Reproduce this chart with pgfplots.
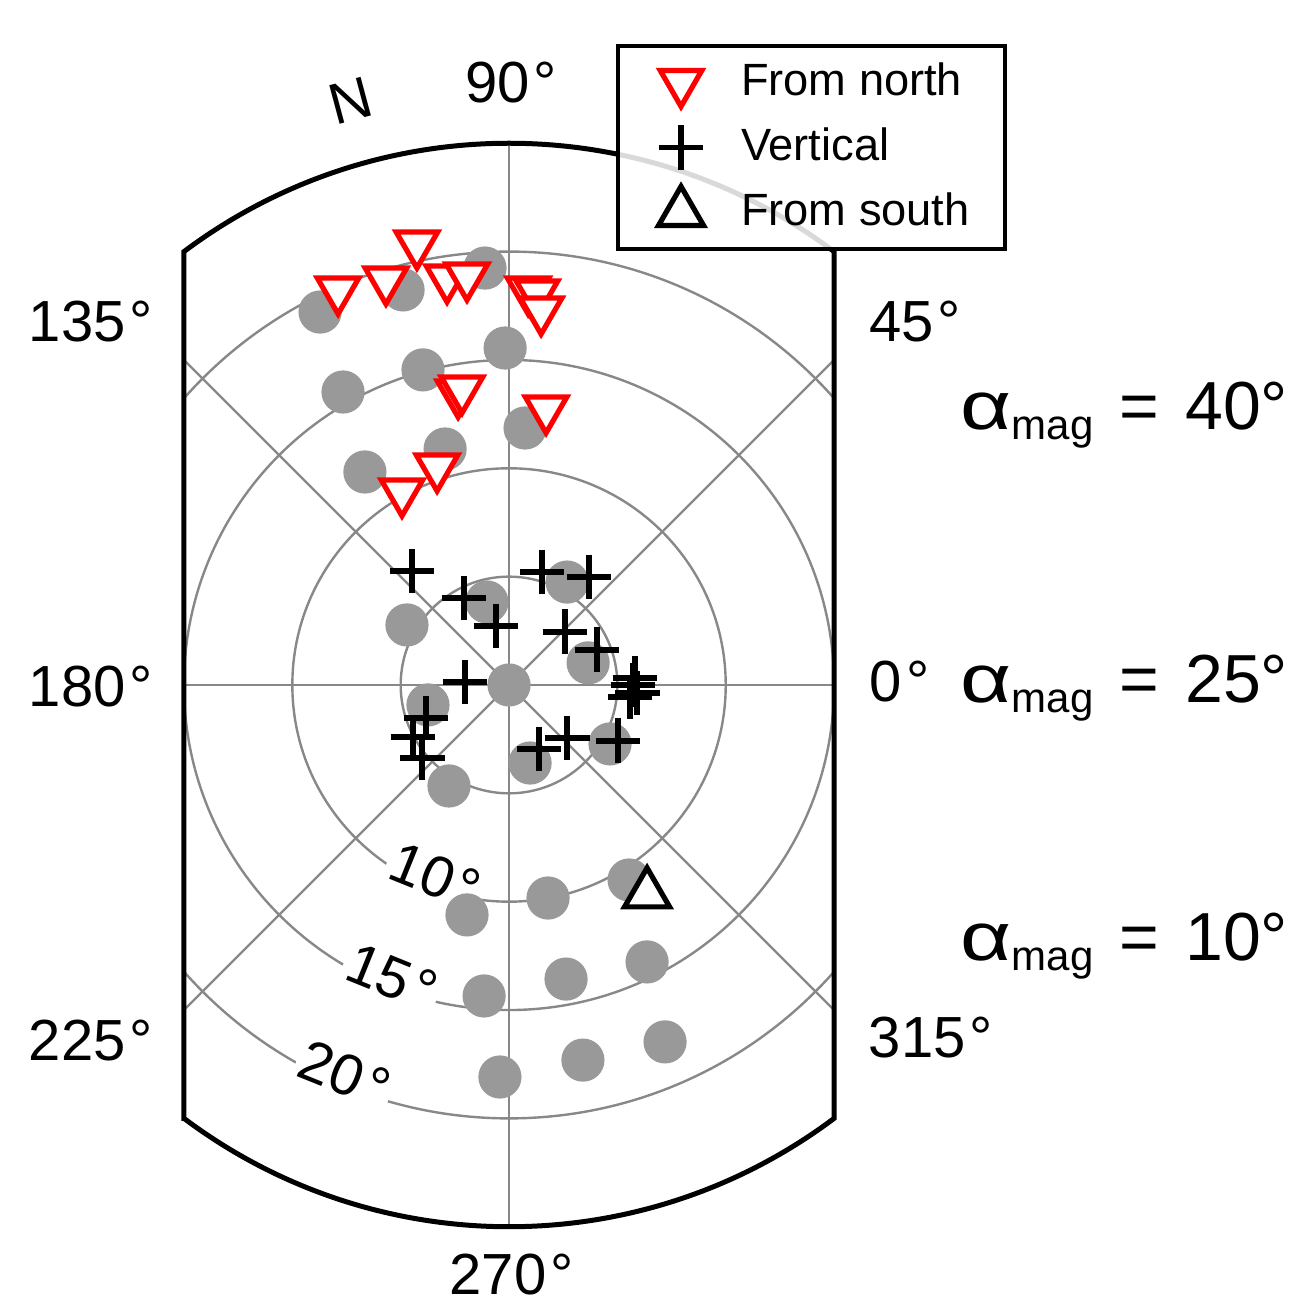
\documentclass[border=0pt]{standalone}
\usepackage{fontspec}
\setmainfont{Liberation Sans}
\usepackage{graphicx}
\usepackage{pgfplots}
\pgfplotsset{compat=1.18}
\definecolor{dotgray}{RGB}{153,153,153}
\definecolor{gridgray}{RGB}{136,136,136}
\newcommand{\lab}{\fontsize{14.5}{16}\selectfont}
\newcommand{\alab}{\fontsize{17}{19}\selectfont}
\newcommand{\amag}[1]{\scalebox{1.3}[1]{α}\raisebox{-2.5pt}{\fontsize{10.5}{12}\selectfont mag}\hspace{6.5pt}=\hspace{6.5pt}#1°}
\begin{document}
\begin{tikzpicture}
\begin{axis}[
  x=5.4175pt, y=5.4175pt,
  xmin=-15, xmax=15, ymin=-25, ymax=25,
  hide axis, clip=false,
  legend style={at={(0.6646,1.0916)}, anchor=north west, draw=black, line width=1pt,
    fill=white, fill opacity=0.85, text opacity=1, draw opacity=1,
    font=\fontsize{11.3}{13}\selectfont, cells={anchor=west},
    inner xsep=7.75pt, inner ysep=1pt, nodes={inner sep=1pt, minimum height=16.25pt}, row sep=0pt, column sep=6pt},
  legend image code/.code={\path[draw=none,fill=none] (0pt,-7pt) rectangle (16pt,7pt); \draw[#1] plot coordinates {(8pt,0pt)};},
]
% grid
\begin{scope}
\clip (axis cs:-15,-20) -- (axis cs:-15,20) arc[start angle=126.87, end angle=53.13, radius=135.4375pt]
  -- (axis cs:15,-20) arc[start angle=-53.13, end angle=-126.87, radius=135.4375pt] -- cycle;
\draw[gridgray, line width=0.6pt] (axis cs:0,0) circle[radius=27.0875pt];
\draw[gridgray, line width=0.6pt] (axis cs:0,0) circle[radius=54.175pt];
\draw[gridgray, line width=0.6pt] (axis cs:0,0) circle[radius=81.2625pt];
\draw[gridgray, line width=0.6pt] (axis cs:0,0) circle[radius=108.35pt];
\draw[gridgray, line width=0.6pt] (axis cs:-25,0) -- (axis cs:25,0);
\draw[gridgray, line width=0.6pt] (axis cs:0,-25) -- (axis cs:0,25);
\draw[gridgray, line width=0.6pt] (axis cs:-17.68,-17.68) -- (axis cs:17.68,17.68);
\draw[gridgray, line width=0.6pt] (axis cs:-17.68,17.68) -- (axis cs:17.68,-17.68);
\end{scope}
% radial labels
\node[rotate=-22, fill=white, inner sep=1pt, font=\lab] at (axis cs:-3.40,-8.81) {10\kern1pt°};
\node[rotate=-22, fill=white, inner sep=1pt, font=\lab] at (axis cs:-5.40,-13.47) {15\kern1pt°};
\node[rotate=-22, fill=white, inner sep=1pt, font=\lab] at (axis cs:-7.57,-17.96) {20\kern1pt°};
% boundary
\draw[black, line width=1.25pt] (axis cs:-15,-20) -- (axis cs:-15,20) arc[start angle=126.87, end angle=53.13, radius=135.4375pt]
  -- (axis cs:15,-20) arc[start angle=-53.13, end angle=-126.87, radius=135.4375pt] -- cycle;
% angle labels
\node[font=\lab, anchor=base, inner sep=0pt] at (axis cs:0.09,26.9) {90\kern1pt°};
\node[font=\lab, anchor=base, inner sep=0pt] at (axis cs:0.12,-28.12) {270\kern1pt°};
\node[font=\lab, anchor=base east, inner sep=0pt] at (axis cs:-16.40,15.83) {135\kern1pt°};
\node[font=\lab, anchor=base east, inner sep=0pt] at (axis cs:-16.40,-0.97) {180\kern1pt°};
\node[font=\lab, anchor=base east, inner sep=0pt] at (axis cs:-16.40,-17.35) {225\kern1pt°};
\node[font=\lab, anchor=base west, inner sep=0pt] at (axis cs:16.60,15.87) {45\kern1pt°};
\node[font=\lab, anchor=base west, inner sep=0pt] at (axis cs:16.62,-0.78) {0\kern1pt°};
\node[font=\lab, anchor=base west, inner sep=0pt] at (axis cs:16.57,-17.17) {315\kern1pt°};
\node[font=\lab, rotate=15, inner sep=0pt] at (axis cs:-7.29,26.95) {N};
% alpha labels
\node[font=\alab, anchor=base west, inner sep=0pt] at (axis cs:20.81,11.77) {\amag{40}};
\node[font=\alab, anchor=base west, inner sep=0pt] at (axis cs:20.81,-0.83) {\amag{25}};
\node[font=\alab, anchor=base west, inner sep=0pt] at (axis cs:20.81,-12.70) {\amag{10}};
% data
\addplot[dotgray, only marks, mark=*, mark size=5.2pt, mark options={draw=dotgray, fill=dotgray}, forget plot] coordinates {
(-8.72,17.21) (-4.89,18.23) (-1.11,19.24) (-0.18,15.55) (-3.97,14.54) (-7.66,13.52) (-2.95,10.89) (-6.65,9.83) (0.74,11.86)
(-4.71,2.77) (-1.02,3.83) (0,0) (2.68,4.75) (3.65,1.02) (-3.74,-0.92) (-2.77,-4.66) (0.97,-3.60) (4.66,-2.72)
(-1.94,-10.61) (1.80,-9.83) (5.54,-9.00) (-1.15,-14.35) (2.63,-13.57) (6.37,-12.78) (-0.42,-18.09) (3.41,-17.31) (7.20,-16.47)
};
\addplot[red, line width=1.3pt, only marks, mark=triangle*, mark size=6pt, mark options={rotate=180, draw=red, fill=white, line width=1.3pt}] coordinates {
(-7.89,18.23) (-5.68,18.69) (-4.25,20.35) (-2.86,18.78) (-1.94,18.87) (0.88,18.23) (1.29,18.09) (1.48,17.30)
(-2.35,13.47) (-2.17,13.66) (1.71,12.74) (-3.32,10.06) (-4.94,8.91)
};
\addlegendentry{From north}
\addplot[black, line width=1.35pt, only marks, mark=+, mark size=5.6pt, mark options={draw=black, line width=1.35pt}] coordinates {
(-4.48,5.26) (-2.08,4.01) (-0.60,2.72) (-2.03,0.14) (1.52,5.21) (3.69,4.98) (2.58,2.45) (4.06,1.62)
(5.81,0.32) (5.91,-0.37) (5.58,-0.55) (5.72,0.0) (-3.83,-1.52) (-4.43,-2.40) (-4.01,-3.37) (1.38,-2.95) (2.68,-2.45) (5.03,-2.58)
};
\addlegendentry{Vertical}
\addplot[black, line width=1.3pt, only marks, mark=triangle*, mark size=6.5pt, mark options={draw=black, fill=white, line width=1.3pt}] coordinates {
(6.37,-9.64)
};
\addlegendentry{From south}
% bounding box
\path (axis cs:-23.49,31.61) rectangle (axis cs:36.50,-28.565);
\end{axis}
\end{tikzpicture}
\end{document}
